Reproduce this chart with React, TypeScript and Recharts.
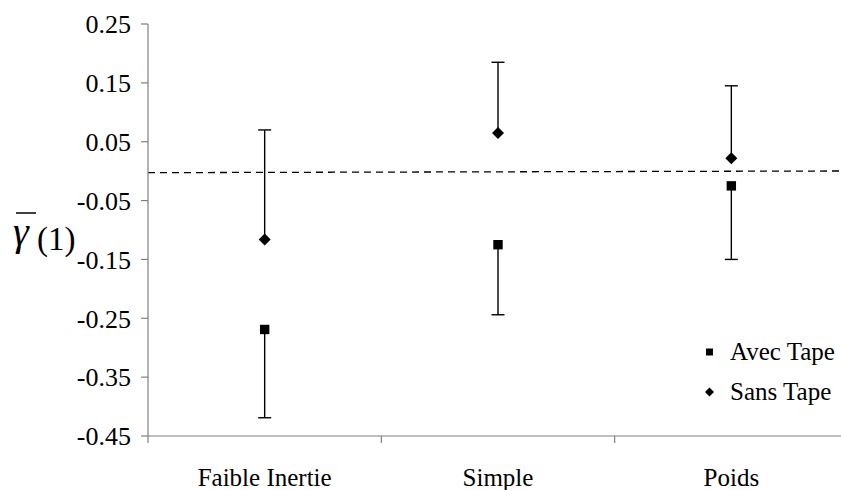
import { ScatterChart, Scatter, XAxis, YAxis, ReferenceLine, Legend } from 'recharts';

document.body.style.margin = '0';

const FONT = '"Liberation Serif", "DejaVu Serif", "Times New Roman", Times, serif';
const AXIS_GREY = '#7f7f7f';

// Category labels and their x positions on the numeric axis
const categories = ['Faible Inertie', 'Simple', 'Poids'];
const positions = [1, 2, 3];
const boundaries = [0.5, 1.5, 2.5, 3.5];

// Avec Tape: mean and the lower end of its whisker
const avecTape = [-0.269, -0.125, -0.025];
const avecTapeLow = [-0.419, -0.244, -0.15];

// Sans Tape: mean and the upper end of its whisker
const sansTape = [-0.116, 0.065, 0.022];
const sansTapeHigh = [0.07, 0.185, 0.145];

// Dashed baseline, value at the left and right ends of the axis
const baseline = [-0.0026, 0.0003];

const yTicks = [0.25, 0.15, 0.05, -0.05, -0.15, -0.25, -0.35, -0.45];
const xTicks = [...boundaries, ...positions].sort((a, b) => a - b);

const legendItems = [
  { name: 'Avec Tape', shape: 'square' },
  { name: 'Sans Tape', shape: 'diamond' },
];

const avecData = positions.map((x, i) => ({ x, y: avecTape[i] }));
const sansData = positions.map((x, i) => ({ x, y: sansTape[i] }));
const capData = [
  ...positions.map((x, i) => ({ x, y: avecTapeLow[i] })),
  ...positions.map((x, i) => ({ x, y: sansTapeHigh[i] })),
];

const SquareMark = ({ cx, cy }: any) => (
  <rect x={cx - 4.7} y={cy - 4.7} width={9.4} height={9.4} fill="#000" />
);

const DiamondMark = ({ cx, cy }: any) => (
  <path d={`M${cx} ${cy - 6}L${cx + 6} ${cy}L${cx} ${cy + 6}L${cx - 6} ${cy}Z`} fill="#000" />
);

const CapMark = ({ cx, cy }: any) => (
  <line x1={cx - 6.5} x2={cx + 6.5} y1={cy} y2={cy} stroke="#000" strokeWidth={1.4} />
);

// Boundary ticks get a short tick line, integer ticks get the category name
const XTick = ({ x, y, payload }: any) => {
  const i = positions.indexOf(payload.value);
  if (i < 0) {
    return <line x1={x} x2={x} y1={y} y2={y + 7} stroke={AXIS_GREY} strokeWidth={1.2} />;
  }
  return (
    <text x={x} y={y + 50} textAnchor="middle" fontSize={25} style={{ fontFamily: FONT }} fill="#000">
      {categories[i]}
    </text>
  );
};

// gamma-bar(1) axis title
const AxisTitle = () => (
  <g style={{ fontFamily: FONT }} fill="#000">
    <line x1={16} x2={36} y1={213} y2={213} stroke="#000" strokeWidth={1.5} />
    <text x={13} y={245} fontSize={40} fontStyle="italic">γ</text>
    <text x={37} y={250} fontSize={33}>(1)</text>
  </g>
);

const LegendBox = () => (
  <div style={{ fontFamily: FONT, fontSize: 25, color: '#000' }}>
    {legendItems.map((item) => (
      <div key={item.name} style={{ height: 40, lineHeight: '40px', display: 'flex', alignItems: 'center' }}>
        <svg width={19} height={14} style={{ marginRight: 11 }}>
          {item.shape === 'square' ? (
            <rect x={6} y={3.5} width={7} height={7} fill="#000" />
          ) : (
            <path d="M9.5 2.5L14 7L9.5 11.5L5 7Z" fill="#000" />
          )}
        </svg>
        <span>{item.name}</span>
      </div>
    ))}
  </div>
);

export default function App() {
  return (
    <div style={{ width: 841, height: 490, overflow: 'hidden', background: '#fff', fontFamily: FONT }}>
      <ScatterChart width={848} height={490} margin={{ top: 24, right: 0, bottom: 0, left: 0 }}>
        <XAxis
          type="number"
          dataKey="x"
          domain={[0.5, 3.5]}
          ticks={xTicks}
          interval={0}
          tickLine={false}
          tickSize={0}
          tickMargin={0}
          height={54}
          stroke={AXIS_GREY}
          strokeWidth={1.2}
          tick={<XTick />}
          allowDataOverflow
        />
        <YAxis
          type="number"
          dataKey="y"
          domain={[-0.45, 0.25]}
          ticks={yTicks}
          interval={0}
          width={148}
          tickSize={7}
          tickMargin={10}
          stroke={AXIS_GREY}
          strokeWidth={1.2}
          tick={{ fill: '#000', fontSize: 26, style: { fontFamily: FONT } }}
          tickFormatter={(v: number) => v.toFixed(2)}
          label={<AxisTitle />}
          allowDataOverflow
        />
        <ReferenceLine
          segment={[{ x: 0.5, y: baseline[0] }, { x: 3.5, y: baseline[1] }]}
          stroke="#000"
          strokeWidth={1.3}
          strokeDasharray="7 5"
        />
        {positions.map((x, i) => (
          <ReferenceLine
            key={`avec-${x}`}
            segment={[{ x, y: avecTape[i] }, { x, y: avecTapeLow[i] }]}
            stroke="#000"
            strokeWidth={1.4}
          />
        ))}
        {positions.map((x, i) => (
          <ReferenceLine
            key={`sans-${x}`}
            segment={[{ x, y: sansTape[i] }, { x, y: sansTapeHigh[i] }]}
            stroke="#000"
            strokeWidth={1.4}
          />
        ))}
        <Scatter name="caps" data={capData} shape={<CapMark />} legendType="none" isAnimationActive={false} />
        <Scatter name="Avec Tape" data={avecData} shape={<SquareMark />} isAnimationActive={false} />
        <Scatter name="Sans Tape" data={sansData} shape={<DiamondMark />} isAnimationActive={false} />
        <Legend
          layout="vertical"
          align="center"
          verticalAlign="middle"
          content={<LegendBox />}
          wrapperStyle={{ position: 'absolute', left: 700, top: 332, width: 141 }}
        />
      </ScatterChart>
    </div>
  );
}
